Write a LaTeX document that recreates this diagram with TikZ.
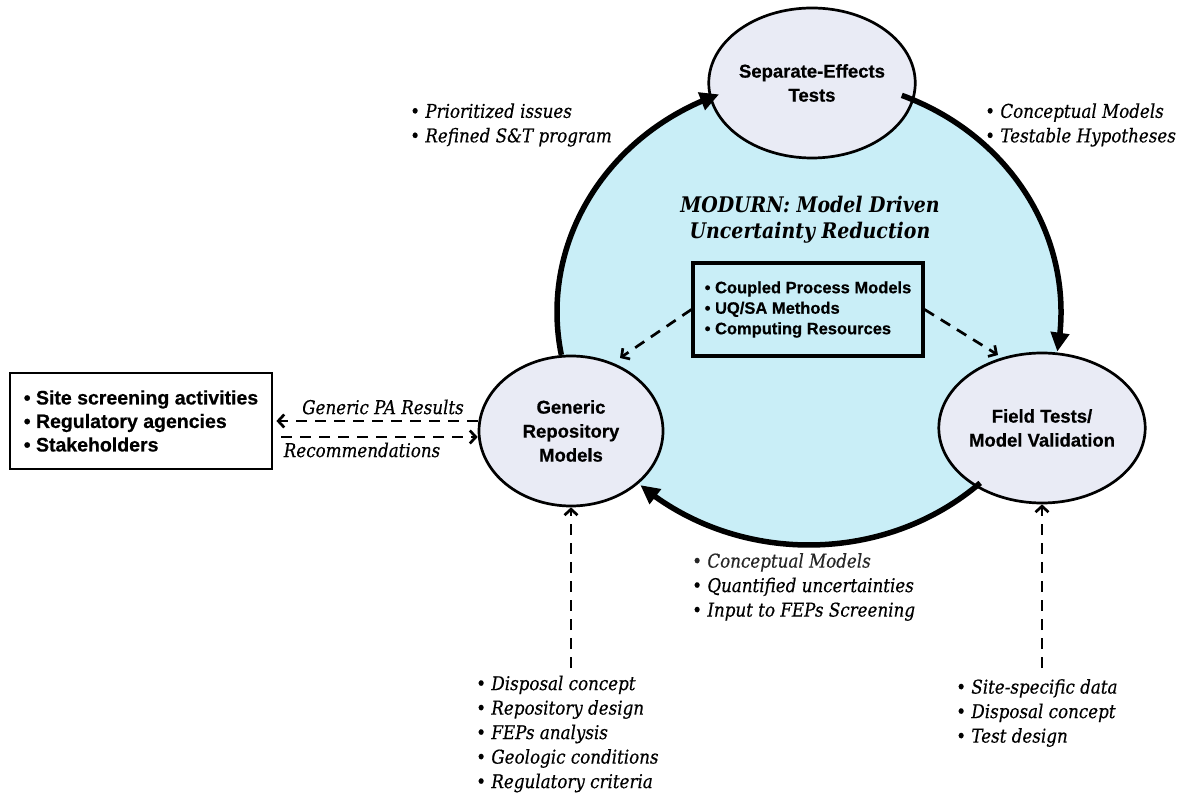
\documentclass[tikz,border=0pt]{standalone}
\usepackage{fontspec}
\setmainfont{Liberation Sans}[BoldFeatures={FakeBold=0.6}]
\newfontfamily\labfont{DejaVu Serif}[FakeStretch=0.88, ItalicFeatures={FakeBold=0.4}]
\usetikzlibrary{arrows.meta,bending,shapes.geometric,calc}
\definecolor{bigfill}{RGB}{201,238,247}
\definecolor{ellfill}{RGB}{233,235,245}
\tikzset{
  proc/.style={ellipse, draw=black, line width=2.7pt, fill=ellfill, minimum width=184pt, minimum height=150pt, inner sep=0pt, align=center, font=\fontsize{18.5}{24}\selectfont\bfseries},
  cyc/.style={line width=5.5pt, -{Triangle[length=19pt,width=18pt,flex]}},
  dasharrow/.style={line width=2.7pt, dash pattern=on 11pt off 8pt, -{Straight Barb[length=6pt,width=13pt]}},
  lab/.style={font=\labfont\itshape\fontsize{19}{24.5}\selectfont, align=left, inner sep=0pt},
  infobox/.style={draw=black, line width=3.2pt, align=left, inner sep=0pt},
}
\begin{document}
\begin{tikzpicture}[x=1pt,y=1pt]
\useasboundingbox (0,0) rectangle (1190,795);
\fill[white] (0,0) rectangle (1190,795);
\coordinate (C) at (809,483);
\fill[bigfill] (C) ellipse [x radius=252, y radius=233];
% title and inner box
\node[font=\labfont\bfseries\itshape\fontsize{21.5}{26}\selectfont, align=center] (title) at (810,575) {MODURN: Model Driven\\Uncertainty Reduction};
\node[infobox, minimum width=230pt, minimum height=93pt, font=\fontsize{16.5}{20.5}\selectfont\bfseries] (box) at (808,485.5) {• Coupled Process Models\\• UQ/SA Methods\\• Computing Resources};
% process ellipses
\node[proc] (top) at (812,712) {Separate-Effects\\Tests};
\node[proc] (gen) at (571,364) {Generic\\Repository\\Models};
\node[proc] (fld) at (1042,367) {Field Tests/\\Model Validation};
% cycle arcs
\draw[cyc] ([shift={(190.6:252 and 233)}]C) arc[start angle=190.6, end angle=110.9, x radius=252, y radius=233];
\draw[cyc] ([shift={(68.4:252 and 233)}]C) arc[start angle=68.4, end angle=-9.8, x radius=252, y radius=233];
\draw[cyc] ([shift={(-47.2:252 and 233)}]C) arc[start angle=-47.2, end angle=-132, x radius=252, y radius=233];
% dashed arrows from inner box
\coordinate (gtip) at (620,437);
\coordinate (ftip) at (998,440);
\draw[dasharrow] (box.west) -- (gtip);
\draw[dasharrow] (box.east) -- (ftip);
% left box
\node[infobox, line width=2.8pt, minimum width=262pt, minimum height=96pt, font=\fontsize{19.5}{23.5}\selectfont\bfseries] (lbox) at (141,374) {• Site screening activities\\• Regulatory agencies\\• Stakeholders};
\draw[dasharrow] ([yshift=10pt]gen.west) -- ([xshift=3pt]lbox.east);
\draw[dasharrow] ([xshift=8pt,yshift=-16pt]lbox.east) -- ([yshift=-6pt]gen.west);
\node[lab] (gpa) at (383,388) {Generic PA Results};
\node[lab] (rec) at (362,345) {Recommendations};
% labels on the cycle
\node[lab, anchor=west] (ltl) at (410,670) {• Prioritized issues\\• Refined S\&T program};
\node[lab, anchor=west] (ltr) at (985,670) {• Conceptual Models\\• Testable Hypotheses};
\node[lab, anchor=west] (lbt) at (692,208) {{\color{black!85}• Conceptual Models}\\• Quantified uncertainties\\• Input to FEPs Screening};
% inputs from below
\node[lab, anchor=west] (lgi) at (476,61) {• Disposal concept\\• Repository design\\• FEPs analysis\\• Geologic conditions\\• Regulatory criteria};
\node[lab, anchor=west] (lfi) at (956,82) {• Site-specific data\\• Disposal concept\\• Test design};
\coordinate (gbot) at (571,127);
\coordinate (fbot) at (1042,127);
\draw[dasharrow] (gbot) -- (gen.south);
\draw[dasharrow] (fbot) -- (fld.south);
\end{tikzpicture}
\end{document}
